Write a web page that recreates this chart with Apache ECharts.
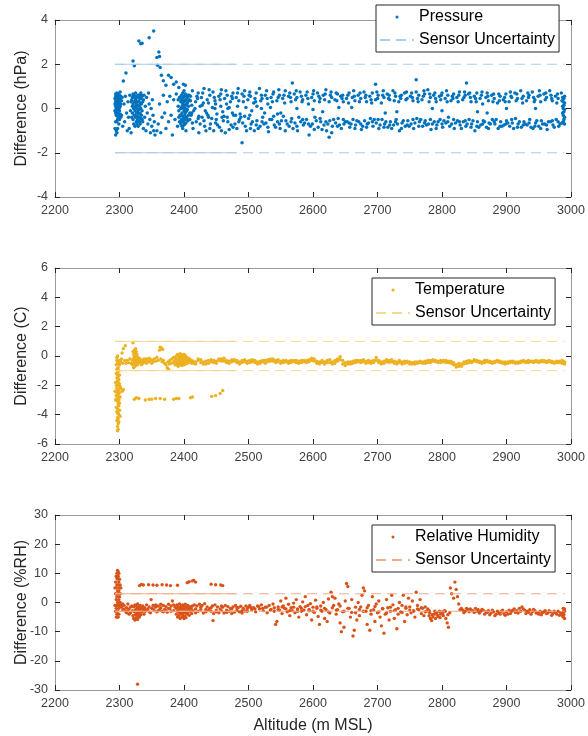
<!DOCTYPE html>
<html><head><meta charset="utf-8">
<script src="https://cdn.jsdelivr.net/npm/echarts@6/dist/echarts.min.js"></script>
<style>html,body{margin:0;padding:0;background:#fff}#c{width:588px;height:736px}</style>
</head><body><div id="c"></div>
<script>
// ---------- axis ticks ----------
const altitudeTicks = [2200, 2300, 2400, 2500, 2600, 2700, 2800, 2900, 3000];
const pressureTicks = [-4, -2, 0, 2, 4];
const temperatureTicks = [-6, -4, -2, 0, 2, 4, 6];
const humidityTicks = [-30, -20, -10, 0, 10, 20, 30];

// ---------- sensor uncertainty (±) ----------
const uncertaintyAltRange = [2293, 2990];
const uncertaintySolidEnd = 2480;
const pressureUncertainty = 2;
const temperatureUncertainty = 1;
const humidityUncertainty = 3;

// ---------- Pressure difference (hPa) ----------
const pressureCluster1 = [[2294,0.3],[2294,0.1],[2294,0.5],[2294,-0.2],[2295,0.6],[2295,0.4],[2295,0.2],[2295,0.0],[2295,-0.1],[2295,0.35],[2295,0.55],[2296,0.7],[2296,0.45],[2296,0.25],[2296,0.05],[2296,-0.3],[2296,0.15],[2296,0.5],[2297,0.6],[2297,0.3],[2297,0.1],[2297,-0.05],[2297,0.4],[2297,-0.5],[2298,0.5],[2298,0.2],[2298,0.65],[2298,-0.2],[2298,0.0],[2298,0.35],[2299,0.45],[2299,0.15],[2299,-0.35],[2299,0.55],[2299,0.25],[2300,0.3],[2300,0.6],[2300,-0.1],[2300,0.05],[2301,0.4],[2301,0.75],[2295,-1.0],[2294,-1.2],[2296,-1.1],[2297,-0.9],[2299,-0.7],[2300,-0.5],[2302,0.2],[2302,-0.4],
[2293,0.2],[2293,-0.1],[2293,0.45],[2294,0.65],[2295,-0.3],[2296,-0.6],[2297,0.2],[2298,-0.4],[2299,0.0],[2300,0.45],[2301,0.1],[2301,-0.25],[2302,0.55],[2303,0.35],[2293,-0.9],[2294,-0.6]];
const pressureSpike = [[2306,1.24],[2310,1.6],[2321,2.15],[2323,1.93],[2330,3.05],[2333,2.93],[2335,2.95],[2346,3.2],[2353,3.5],[2358,2.3],[2361,2.55],[2359,1.95],[2362,2.35],[2363,1.85],[2365,1.5],[2368,1.25],[2372,1.05],[2376,1.5],[2380,1.4],[2384,1.1],[2388,1.2],[2392,0.95]];
const pressureCluster2 = [[2303,-0.3],[2304,0.5],[2305,-0.8],[2307,0.2],[2308,-0.6],[2309,0.55],[2311,-0.2],[2312,-1.0],[2313,0.3],[2314,-0.4],[2315,-0.9],[2316,0.6],[2317,-0.1],[2318,-1.1],[2319,0.4],[2320,0.5],[2320,-0.2],[2321,0.2],[2321,-0.5],[2322,0.6],[2322,0.0],[2322,-0.7],[2323,0.3],[2323,-0.3],[2324,0.5],[2324,-0.1],[2324,-0.8],[2325,0.4],[2325,0.1],[2325,-0.4],[2325,0.7],[2326,0.2],[2326,-0.2],[2326,-0.6],[2327,0.5],[2327,0.0],[2327,-0.35],[2328,0.3],[2328,-0.15],[2328,-0.5],[2329,0.6],[2329,0.15],[2329,-0.25],[2330,0.35],[2330,-0.05],[2330,-0.55],[2331,0.5],[2331,0.1],[2331,-0.4],[2332,0.25],[2332,-0.2],[2332,-0.7],[2333,0.45],[2333,0.0],[2334,0.2],[2334,-0.3],[2335,0.55],[2335,-0.1],[2336,0.3],[2336,-0.6],[2337,-0.9],[2338,0.6],[2339,-0.4],[2340,0.1],[2341,-1.0],[2342,0.5],[2343,-0.2],[2344,-0.7],[2345,0.7],[2346,0.2],[2347,-0.5],[2348,-1.1],[2349,0.0],[2350,-0.8],[2351,0.4],[2352,-0.3],[2353,-1.0],[2354,-0.6],[2355,-1.2],[2358,-1.0],[2360,-0.7],[2362,0.2],[2364,-1.1],[2366,-0.4],[2368,0.6],[2370,-0.2],[2372,-0.9],[2374,0.3],[2376,-0.6],[2378,0.55],[2380,-0.3],[2382,-1.2],[2384,0.4],[2386,-0.5],[2388,0.65],[2390,-0.8],[2391,0.1],[2392,-0.4],[2393,0.5],
[2318,0.3],[2319,-0.4],[2320,0.1],[2321,0.65],[2323,0.05],[2324,0.3],[2326,0.55],[2327,-0.7],[2329,-0.8],[2330,0.6],[2331,-0.6],[2333,-0.45],[2334,0.6],[2335,-0.5],[2337,0.4],[2333,0.7]];
const pressureCluster3 = [[2395,0.3],[2395,-0.3],[2395,-0.7],[2396,0.6],[2396,0.0],[2396,-0.5],[2397,0.4],[2397,-0.2],[2397,-0.8],[2398,0.7],[2398,0.2],[2398,-0.35],[2399,0.5],[2399,0.05],[2399,-0.6],[2400,0.8],[2400,0.3],[2400,-0.1],[2400,-0.45],[2401,0.55],[2401,0.15],[2401,-0.3],[2401,-0.7],[2402,0.65],[2402,0.0],[2402,-0.5],[2403,0.4],[2403,-0.15],[2403,-0.65],[2404,0.6],[2404,0.2],[2404,-0.4],[2405,0.5],[2405,-0.05],[2406,0.3],[2406,-0.55],[2399,1.1],[2402,1.05],[2398,-0.9],[2403,-1.0],
[2391,0.4],[2392,-0.1],[2393,-0.6],[2394,0.5],[2394,-0.3],[2395,0.0],[2396,0.35],[2397,0.1],[2398,-0.6],[2399,0.3],[2400,0.55],[2400,-0.75],[2401,0.35],[2402,-0.2],[2403,0.15],[2404,-0.1],[2405,0.25],[2405,-0.5],[2406,0.6],[2407,0.1],[2407,-0.3],[2408,0.4],[2409,-0.2],[2410,0.55]];
const pressureUpperBand = [[2408,0.6],[2413,0.8],[2418,0.3],[2422,0.7],[2427,0.5],[2431,0.9],[2436,0.4],[2440,0.6],[2445,0.75],[2449,0.2],[2454,0.55],[2458,0.85],[2463,0.45],[2467,0.6],[2472,0.3],[2476,0.7],[2481,0.5],[2485,0.35],[2490,0.65],[2494,0.8],[2499,0.4],[2503,0.55],[2508,0.25],[2512,0.7],[2517,0.9],[2521,0.45],[2526,0.6],[2530,0.2],[2535,0.5],[2539,0.75],[2544,0.35],[2548,0.6],[2553,0.45],[2557,0.8],[2562,0.55],[2566,0.3],[2571,0.65],[2575,0.5],[2580,0.75],[2584,0.4],[2589,0.6],[2593,0.2],[2598,0.5],[2602,0.35],[2607,0.7],[2611,0.45],[2616,0.6],[2620,0.85],[2625,0.3],[2629,0.5],[2634,0.4],[2638,0.65],[2643,0.55],[2647,0.3],[2652,0.45],[2656,0.7],[2661,0.5],[2665,0.35],[2670,0.6],[2674,0.45],[2679,0.75],[2683,0.3],[2688,0.55],[2692,0.7],[2697,0.4],[2701,0.6],[2706,0.25],[2710,0.5],[2715,0.65],[2719,0.4],[2724,0.8],[2728,0.55],[2733,0.3],[2737,0.6],[2742,0.7],[2746,0.45],[2751,0.55],[2755,0.35],[2760,0.75],[2764,0.6],[2769,0.4],[2773,0.65],[2778,0.85],[2782,0.5],[2787,0.6],[2791,0.3],[2796,0.55],[2800,0.7],[2805,0.45],[2809,0.6],[2814,0.35],[2818,0.65],[2823,0.5],[2827,0.75],[2832,0.4],[2836,0.6],[2841,0.65],[2845,0.3],[2850,0.55],[2854,0.7],[2859,0.45],[2863,0.2],[2868,0.5],[2872,0.35],[2877,0.6],[2881,0.45],[2886,0.25],[2890,0.55],[2895,0.4],[2899,0.65],[2904,0.3],[2908,0.5],[2913,0.7],[2917,0.45],[2922,0.8],[2926,0.55],[2931,0.35],[2935,0.6],[2940,0.75],[2944,0.4],[2949,0.55],[2953,0.3],[2958,0.65],[2962,0.5],[2967,0.8],[2971,0.35],[2976,0.55],[2980,0.45],[2985,0.7],
[2410,0.35],[2420,0.55],[2429,0.7],[2438,0.25],[2447,0.5],[2456,0.4],[2465,0.8],[2474,0.55],[2483,0.7],[2492,0.3],[2501,0.6],[2510,0.45],[2519,0.35],[2528,0.8],[2537,0.3],[2546,0.5],[2555,0.6],[2564,0.7],[2573,0.4],[2582,0.55],[2591,0.75],[2600,0.65],[2609,0.55],[2618,0.4],[2627,0.6],[2636,0.7],[2645,0.45],[2654,0.6],[2663,0.8],[2672,0.3],[2681,0.5],[2690,0.4],[2699,0.75],[2708,0.6],[2717,0.45],[2726,0.35],[2735,0.55],[2744,0.4],[2753,0.7],[2762,0.45],[2771,0.55],[2780,0.3],[2789,0.7],[2798,0.4],[2807,0.8],[2816,0.55],[2825,0.3],[2834,0.5],[2843,0.7],[2852,0.45],[2861,0.6],[2870,0.7],[2879,0.3],[2888,0.65],[2897,0.5],[2906,0.75],[2915,0.35],[2924,0.45],[2933,0.7],[2942,0.5],[2951,0.8],[2960,0.4],[2969,0.6],[2978,0.25],[2987,0.5],
[2412,0.15],[2421,0.45],[2430,0.25],[2439,0.85],[2448,0.35],[2457,0.65],[2466,0.2],[2475,0.45],[2484,0.9],[2493,0.55],[2502,0.75],[2511,0.3],[2520,0.6],[2529,0.45],[2538,0.65],[2547,0.85],[2556,0.25],[2565,0.5],[2574,0.8],[2583,0.3],[2592,0.45],[2601,0.8],[2610,0.3],[2619,0.65],[2628,0.75],[2637,0.35],[2646,0.6],[2655,0.25],[2664,0.55],[2673,0.7],[2682,0.6],[2691,0.25],[2700,0.45],[2709,0.8],[2718,0.6],[2727,0.7],[2736,0.45],[2745,0.75],[2754,0.5],[2763,0.3],[2772,0.8],[2781,0.65],[2790,0.45],[2799,0.6],[2808,0.3],[2817,0.45],[2826,0.6],[2835,0.75],[2844,0.5],[2853,0.3],[2862,0.75],[2871,0.55],[2880,0.65],[2889,0.35],[2898,0.3],[2907,0.55],[2916,0.65],[2925,0.25],[2934,0.5],[2943,0.3],[2952,0.6],[2961,0.7],[2970,0.45],[2979,0.65],[2986,0.35]];
const pressureLowerBand = [[2409,-0.5],[2414,-0.9],[2419,-0.6],[2423,-1.1],[2428,-0.4],[2432,-0.8],[2437,-0.3],[2441,-0.7],[2446,-1.0],[2450,-0.5],[2455,-0.85],[2459,-0.4],[2464,-1.1],[2468,-0.6],[2473,-0.75],[2477,-0.3],[2482,-0.9],[2486,-0.5],[2491,-0.65],[2495,-0.8],[2500,-0.45],[2504,-0.7],[2509,-1.0],[2513,-0.55],[2518,-0.8],[2522,-0.4],[2527,-0.65],[2531,-1.05],[2536,-0.5],[2540,-0.75],[2545,-0.6],[2549,-0.9],[2554,-0.35],[2558,-0.55],[2563,-0.8],[2567,-0.45],[2572,-0.65],[2576,-1.0],[2581,-0.6],[2585,-0.75],[2590,-0.5],[2594,-1.2],[2599,-0.7],[2603,-0.4],[2608,-0.85],[2612,-0.6],[2617,-0.75],[2621,-1.0],[2626,-0.55],[2630,-0.8],[2635,-0.65],[2639,-0.45],[2644,-0.9],[2648,-0.7],[2653,-0.6],[2657,-0.85],[2662,-0.5],[2666,-0.75],[2671,-0.6],[2675,-0.95],[2680,-0.55],[2684,-0.7],[2689,-0.45],[2693,-0.8],[2698,-0.65],[2702,-0.9],[2707,-0.5],[2711,-0.7],[2716,-0.85],[2720,-0.6],[2725,-0.75],[2729,-0.5],[2734,-1.0],[2738,-0.65],[2743,-0.8],[2747,-0.55],[2752,-0.7],[2756,-0.9],[2761,-0.45],[2765,-0.6],[2770,-0.8],[2774,-0.55],[2779,-0.7],[2783,-0.95],[2788,-0.6],[2792,-0.75],[2797,-0.5],[2801,-0.85],[2806,-0.65],[2810,-0.4],[2815,-0.7],[2819,-0.9],[2824,-0.55],[2828,-0.75],[2833,-0.6],[2837,-0.8],[2842,-0.5],[2846,-0.7],[2851,-1.0],[2855,-0.6],[2860,-0.75],[2864,-0.55],[2869,-0.85],[2873,-0.65],[2878,-0.5],[2882,-0.7],[2887,-0.9],[2891,-0.6],[2896,-0.75],[2900,-0.55],[2905,-0.8],[2909,-0.65],[2914,-0.45],[2918,-0.7],[2923,-0.85],[2927,-0.6],[2932,-0.75],[2936,-0.5],[2941,-0.9],[2945,-0.65],[2950,-0.8],[2954,-0.55],[2959,-0.7],[2963,-0.95],[2968,-0.6],[2972,-0.75],[2977,-0.5],[2981,-0.8],[2986,-0.65],
[2411,-0.3],[2425,-0.7],[2434,-1.0],[2443,-0.45],[2452,-0.75],[2461,-0.55],[2470,-0.95],[2479,-0.7],[2488,-0.4],[2497,-1.0],[2506,-0.6],[2515,-0.9],[2524,-0.7],[2533,-0.5],[2542,-0.85],[2551,-0.55],[2560,-0.7],[2569,-0.9],[2578,-0.4],[2587,-0.65],[2596,-0.8],[2605,-0.55],[2614,-0.95],[2623,-0.7],[2632,-0.5],[2641,-0.75],[2650,-0.6],[2659,-0.7],[2668,-0.55],[2677,-0.8],[2686,-0.65],[2695,-0.5],[2704,-0.75],[2713,-0.6],[2722,-0.9],[2731,-0.7],[2740,-0.55],[2749,-0.8],[2758,-0.65],[2767,-0.5],[2776,-0.75],[2785,-0.7],[2794,-0.6],[2803,-0.55],[2812,-0.8],[2821,-0.65],[2830,-0.9],[2839,-0.7],[2848,-0.55],[2857,-0.85],[2866,-0.6],[2875,-0.7],[2884,-0.5],[2893,-0.8],[2902,-0.65],[2911,-0.9],[2920,-0.6],[2929,-0.7],[2938,-0.85],[2947,-0.55],[2956,-0.7],[2965,-0.6],[2974,-0.85],[2983,-0.7],
[2413,-0.65],[2422,-0.45],[2431,-0.55],[2440,-0.9],[2449,-0.65],[2458,-1.0],[2467,-0.4],[2476,-0.85],[2485,-0.6],[2494,-0.35],[2503,-0.9],[2512,-0.75],[2521,-0.6],[2530,-0.85],[2539,-0.35],[2548,-0.7],[2557,-1.0],[2566,-0.6],[2575,-0.8],[2584,-0.5],[2593,-0.7],[2602,-0.95],[2611,-0.45],[2620,-0.6],[2629,-1.1],[2638,-0.8],[2647,-0.5],[2656,-0.65],[2665,-0.9],[2674,-0.7],[2683,-0.85],[2692,-0.6],[2701,-0.5],[2710,-0.85],[2719,-0.75],[2728,-0.6],[2737,-0.9],[2746,-0.75],[2755,-0.5],[2764,-0.8],[2773,-0.65],[2782,-0.5],[2791,-0.9],[2800,-0.7],[2809,-0.6],[2818,-0.5],[2827,-0.6],[2836,-0.55],[2845,-0.85],[2854,-0.8],[2863,-0.7],[2872,-0.9],[2881,-0.6],[2890,-0.8],[2899,-0.7],[2908,-0.5],[2917,-0.85],[2926,-0.75],[2935,-0.65],[2944,-0.8],[2953,-0.9],[2962,-0.75],[2971,-0.55],[2980,-0.6]];
const pressureOutliers = [[2415,-0.1],[2425,0.1],[2435,-0.2],[2448,0.0],[2460,-0.15],[2470,0.05],[2480,-0.3],[2490,-1.55],[2505,-0.1],[2520,0.0],[2550,-0.2],[2568,1.15],[2600,-0.05],[2625,-1.3],[2640,0.05],[2697,1.1],[2730,-0.15],[2760,1.3],[2800,-0.1],[2838,1.15],[2870,-0.2],[2945,0.0],
[2412,-0.2],[2417,0.0],[2423,-0.35],[2428,0.15],[2433,-0.1],[2438,-0.4],[2444,0.05],[2451,-0.25],[2457,0.1],[2462,-0.35],[2468,0.0],[2475,-0.2],[2483,0.1],[2487,-0.25],[2496,0.05],[2502,-0.3],[2513,0.1],[2525,-0.2],[2534,0.05],[2545,-0.25],[2575,0.0],[2615,-0.15],[2660,0.05],[2712,-0.2],[2785,0.0],[2855,-0.15],[2900,0.0],
[2988,-0.6],[2988,-0.3],[2988,0.0],[2988,0.3],[2989,-0.5],[2989,-0.15],[2989,0.15],[2989,0.45],[2990,-0.7],[2990,-0.4],[2990,-0.05],[2990,0.25],[2990,0.55],[2987,-0.2],[2987,0.1]];

// ---------- Temperature difference (C) ----------
const temperatureSpike = [[2293,-2.4],[2294,-1.8],[2294,-3.0],[2295,-0.6],[2295,-1.2],[2295,-2.0],[2295,-2.7],[2295,-3.5],[2296,-0.3],[2296,-0.9],[2296,-1.5],[2296,-2.2],[2296,-2.9],[2296,-3.8],[2296,-4.4],[2297,-0.5],[2297,-1.1],[2297,-1.7],[2297,-2.4],[2297,-3.1],[2297,-3.6],[2297,-4.2],[2297,-4.8],[2297,-5.1],[2298,-0.8],[2298,-1.4],[2298,-2.0],[2298,-2.6],[2298,-3.3],[2298,-3.9],[2298,-4.6],[2298,-5.0],[2299,-1.0],[2299,-1.6],[2299,-2.3],[2299,-2.8],[2299,-3.4],[2299,-4.0],[2299,-4.5],[2300,-1.3],[2300,-1.9],[2300,-2.5],[2300,-3.2],[2300,-3.7],[2301,-2.1],[2301,-2.8],[2301,-4.1],[2302,-2.2],[2304,-2.4],[2306,-2.3],[2296,-0.1],[2297,0.0],[2298,-0.35],[2299,-0.5],[2300,-0.6],[2300,-0.3],[2297,-1.3],[2298,-1.8],[2296,-2.5],[2299,-3.0],[2297,-3.9],[2298,-4.3],[2299,-2.0]];
const temperatureNearSurface = [[2302,-0.4],[2303,-0.2],[2304,0.2],[2305,-0.5],[2306,0.5],[2308,-0.3],[2309,0.7],[2310,-0.5],[2312,-0.3],[2314,-0.45],[2316,-0.2],[2318,-0.5],[2321,0.9],[2325,0.5],[2320,-0.3],[2320,-0.6],[2321,0.3],[2321,-0.2],[2322,0.1],[2322,-0.5],[2322,-0.8],[2323,0.4],[2323,-0.1],[2323,-0.4],[2324,0.2],[2324,-0.3],[2324,-0.7],[2325,0.0],[2325,-0.5],[2326,-0.2],[2326,-0.6],[2326,0.3],[2327,-0.4],[2327,0.1],[2328,-0.3],[2328,-0.6],[2329,-0.1],[2329,-0.5],[2330,-0.3],[2330,-0.45],[2332,-0.4],[2332,-0.2],[2334,-0.35],[2334,-0.6],[2336,-0.3],[2336,-0.5],[2338,-0.4],[2338,-0.2],[2340,-0.45],[2340,-0.3],[2342,-0.5],[2342,-0.2],[2344,-0.35],[2346,-0.4],[2346,-0.15],[2348,-0.3],[2350,-0.5],[2350,-0.25],[2352,-0.4],[2354,-0.2],[2356,-0.35],[2358,-0.1],[2360,-0.3],[2362,0.4],[2363,0.6],[2365,0.55],[2367,0.45],[2364,-0.2],[2366,-0.4],[2368,-0.3],[2370,-0.5],[2372,-0.6],[2374,-0.8],[2375,-0.4],[2376,-0.9],[2377,-0.55],[2378,-0.3],[2380,-0.5],[2381,-0.2],[2383,-0.45],[2384,-0.1],[2385,-0.35],[2386,-0.6],[2387,-0.2],
[2388,0.0],[2388,-0.4],[2389,-0.6],[2390,0.1],[2390,-0.2],[2390,-0.5],[2391,-0.3],[2391,-0.7],[2392,0.05],[2392,-0.25],[2392,-0.55],[2393,-0.1],[2393,-0.45],[2394,0.15],[2394,-0.3],[2394,-0.6],[2395,-0.05],[2395,-0.4],[2396,0.1],[2396,-0.2],[2396,-0.5],[2397,-0.35],[2397,-0.65],[2398,0.0],[2398,-0.3],[2399,-0.15],[2399,-0.5],[2400,0.1],[2400,-0.25],[2400,-0.6],[2401,-0.1],[2401,-0.4],[2402,0.05],[2402,-0.3],[2402,-0.55],[2403,-0.2],[2403,-0.45],[2404,-0.1],[2404,-0.35],[2405,-0.25],[2405,-0.5],[2406,-0.3],[2407,-0.15],[2407,-0.45],[2408,-0.35],[2409,-0.2],[2410,-0.4],[2411,-0.3],[2412,-0.5],[2413,-0.35]];
const temperatureColdBranch = [[2323,-2.95],[2326,-2.85],[2330,-2.9],[2340,-3.0],[2346,-2.95],[2350,-2.95],[2356,-2.9],[2363,-2.9],[2370,-2.95],[2384,-2.95],[2388,-2.9],[2392,-2.9],[2410,-2.85],[2413,-2.8],[2443,-2.75],[2449,-2.7],[2456,-2.55],[2460,-2.35]];
const temperatureMainBand = [[2414,-0.35],[2418,-0.4],[2422,-0.3],[2426,-0.45],[2430,-0.4],[2434,-0.35],[2438,-0.5],[2442,-0.4],[2446,-0.3],[2450,-0.35],[2454,-0.3],[2458,-0.2],[2462,-0.15],[2466,-0.3],[2470,-0.35],[2474,-0.4],[2478,-0.35],[2482,-0.3],[2486,-0.4],[2490,-0.45],[2494,-0.4],[2498,-0.35],[2502,-0.3],[2506,-0.4],[2510,-0.45],[2514,-0.4],[2518,-0.5],[2522,-0.4],[2526,-0.3],[2530,-0.25],[2534,-0.35],[2538,-0.2],[2542,-0.3],[2546,-0.4],[2550,-0.35],[2554,-0.45],[2558,-0.4],[2562,-0.35],[2566,-0.45],[2570,-0.4],[2574,-0.3],[2578,-0.35],[2582,-0.45],[2586,-0.4],[2590,-0.3],[2594,-0.25],[2598,-0.15],[2602,-0.35],[2606,-0.5],[2610,-0.4],[2614,-0.3],[2618,-0.55],[2622,-0.45],[2626,-0.25],[2630,-0.4],[2634,-0.5],[2638,-0.2],[2642,-0.05],[2646,-0.3],[2650,-0.65],[2654,-0.55],[2658,-0.4],[2662,-0.35],[2666,-0.45],[2670,-0.4],[2674,-0.3],[2678,-0.25],[2682,-0.35],[2686,-0.45],[2690,-0.5],[2694,-0.3],[2698,-0.1],[2702,-0.3],[2706,-0.4],[2710,-0.5],[2714,-0.25],[2718,-0.3],[2722,-0.4],[2726,-0.5],[2730,-0.55],[2734,-0.45],[2738,-0.4],[2742,-0.5],[2746,-0.45],[2750,-0.4],[2754,-0.45],[2758,-0.55],[2762,-0.5],[2766,-0.45],[2770,-0.4],[2774,-0.35],[2778,-0.3],[2782,-0.3],[2786,-0.35],[2790,-0.4],[2794,-0.35],[2798,-0.3],[2802,-0.4],[2806,-0.45],[2810,-0.45],[2814,-0.5],[2818,-0.6],[2822,-0.75],[2826,-0.7],[2830,-0.55],[2834,-0.4],[2838,-0.35],[2842,-0.3],[2846,-0.35],[2850,-0.35],[2854,-0.4],[2858,-0.35],[2862,-0.4],[2866,-0.45],[2870,-0.4],[2874,-0.45],[2878,-0.4],[2882,-0.35],[2886,-0.4],[2890,-0.45],[2894,-0.5],[2898,-0.55],[2902,-0.5],[2906,-0.45],[2910,-0.45],[2914,-0.4],[2918,-0.4],[2922,-0.35],[2926,-0.4],[2930,-0.35],[2934,-0.3],[2938,-0.35],[2942,-0.35],[2946,-0.3],[2950,-0.35],[2954,-0.4],[2958,-0.4],[2962,-0.45],[2966,-0.4],[2970,-0.45],[2974,-0.4],[2978,-0.35],[2982,-0.45],[2986,-0.5],[2990,-0.4]];
const temperatureSecondBand = [[2418,-0.55],[2426,-0.25],[2434,-0.55],[2442,-0.25],[2450,-0.5],[2458,-0.35],[2466,-0.45],[2474,-0.25],[2482,-0.45],[2490,-0.3],[2498,-0.5],[2506,-0.25],[2514,-0.55],[2522,-0.3],[2530,-0.4],[2538,-0.35],[2546,-0.25],[2554,-0.3],[2562,-0.5],[2570,-0.3],[2578,-0.5],[2586,-0.3],[2594,-0.4],[2602,-0.2],[2610,-0.55],[2618,-0.4],[2626,-0.45],[2634,-0.3],[2642,-0.25],[2650,-0.45],[2658,-0.55],[2666,-0.3],[2674,-0.45],[2682,-0.5],[2690,-0.35],[2698,-0.3],[2706,-0.55],[2714,-0.4],[2722,-0.25],[2730,-0.4],[2738,-0.55],[2746,-0.35],[2754,-0.55],[2762,-0.4],[2770,-0.5],[2778,-0.45],[2786,-0.25],[2794,-0.45],[2802,-0.3],[2810,-0.35],[2818,-0.45],[2826,-0.5],[2834,-0.55],[2842,-0.45],[2850,-0.25],[2858,-0.45],[2866,-0.3],[2874,-0.35],[2882,-0.45],[2890,-0.35],[2898,-0.4],[2906,-0.35],[2914,-0.5],[2922,-0.45],[2930,-0.45],[2938,-0.4],[2946,-0.4],[2954,-0.3],[2962,-0.35],[2970,-0.35],[2978,-0.45],[2986,-0.3],[2990,-0.55],
[2414,-0.5],[2422,-0.2],[2430,-0.55],[2438,-0.3],[2446,-0.45],[2454,-0.2],[2462,-0.35],[2470,-0.5],[2478,-0.25],[2486,-0.55],[2494,-0.25],[2502,-0.45],[2510,-0.3],[2518,-0.35],[2526,-0.5],[2534,-0.2],[2542,-0.45],[2550,-0.5],[2558,-0.3],[2566,-0.3],[2574,-0.45],[2582,-0.3],[2590,-0.45],[2598,-0.3],[2606,-0.35],[2614,-0.45],[2622,-0.3],[2630,-0.55],[2638,-0.35],[2646,-0.55],[2654,-0.4],[2662,-0.5],[2670,-0.3],[2678,-0.4],[2686,-0.3],[2694,-0.45],[2702,-0.45],[2710,-0.35],[2718,-0.45],[2726,-0.35],[2734,-0.3],[2742,-0.35],[2750,-0.55],[2758,-0.4],[2766,-0.35],[2774,-0.5],[2782,-0.45],[2790,-0.3],[2798,-0.45],[2806,-0.3],[2814,-0.35],[2822,-0.6],[2830,-0.7],[2838,-0.5],[2846,-0.45],[2854,-0.3],[2862,-0.5],[2870,-0.3],[2878,-0.5],[2886,-0.3],[2894,-0.4],[2902,-0.4],[2910,-0.35],[2918,-0.5],[2926,-0.3],[2934,-0.45],[2942,-0.45],[2950,-0.45],[2958,-0.3],[2966,-0.3],[2974,-0.5],[2982,-0.35],[2988,-0.35]];

// ---------- Relative humidity difference (%RH) ----------
const humiditySpike = [[2293,5],[2293,-1],[2294,3],[2294,7],[2294,-3],[2295,9],[2295,5],[2295,1],[2295,-2],[2295,-5],[2296,10],[2296,6],[2296,2],[2296,-1],[2296,-4],[2297,11],[2297,8],[2297,4],[2297,0],[2297,-3],[2298,9],[2298,6],[2298,3],[2298,-1],[2298,-5],[2299,10],[2299,7],[2299,4],[2299,1],[2299,-2],[2300,8],[2300,5],[2300,2],[2300,-1],[2301,6],[2301,3],[2301,0],[2302,5],[2302,-1],[2297,-5],[2299,-4],[2296,8.5],[2298,10.5]];
const humidityMoistBranch = [[2331,5.8],[2334,6.2],[2337,6.0],[2345,6.1],[2352,6.0],[2358,5.9],[2366,6.1],[2373,6.0],[2379,5.8],[2390,5.9],[2405,6.8],[2408,7.1],[2413,7.4],[2415,7.6],[2418,7.0],[2442,6.3],[2449,6.1],[2457,6.0],[2460,5.8],[2328,-28]];
const humidityLowLevel = [[2303,-1.5],[2305,-2.5],[2307,-1],[2309,-3],[2311,-1.8],[2313,-0.5],[2315,-2.2],[2317,-3.5],[2319,-1.2],[2320,-2.8],[2321,-4.5],[2322,-1.5],[2322,-5.5],[2323,-3.2],[2324,-0.8],[2324,-6],[2325,-2.5],[2325,-4.2],[2326,-1.2],[2326,-5.2],[2327,-3.6],[2327,-2],[2328,-0.5],[2328,-5.8],[2329,-2.8],[2329,-4.5],[2330,-1.5],[2330,-3.8],[2331,-5],[2331,-2.2],[2332,-3],[2332,-1],[2333,-4.2],[2334,-2],[2335,-3.2],[2336,-1.2],[2337,-2.5],[2338,-4],[2339,-1.8],[2340,-3],[2342,-0.8],[2344,-2.2],[2346,-1.5],[2348,-3.5],[2349,1],[2350,-2],[2352,-1],[2354,-2.8],[2356,-1.6],[2358,-3.2],[2360,-1.2],[2362,-2.5],[2364,-1.8],[2366,-3],[2368,-1],[2370,-2.4],[2372,-1.4],[2374,-3.3],[2376,-0.6],[2378,-2.1],[2380,-1.2],[2382,0.5],[2384,-2.8],[2386,-1.5],
[2388,-2],[2388,-4],[2389,-0.8],[2390,-3],[2390,-5],[2391,-1.5],[2392,-2.5],[2392,-4.5],[2393,-0.5],[2393,-3.5],[2394,-1.8],[2394,-5.5],[2395,-2.8],[2395,-4],[2396,-1.2],[2396,-3.2],[2397,-2.2],[2397,-5],[2398,-0.8],[2398,-3.8],[2399,-1.8],[2399,-4.5],[2400,-2.6],[2400,-5.5],[2400,-1],[2401,-3.4],[2401,-4.8],[2402,-2],[2402,-0.6],[2403,-3],[2403,-5.2],[2404,-1.6],[2404,-4],[2405,-2.8],[2406,-1],[2406,-3.6],[2407,-2.2],[2408,-4.4],[2409,-1.4],[2410,-3],[2411,-2],[2412,-3.8],[2413,-1.2],
[2416,-0.8],[2420,-1.2],[2424,-0.6],[2428,-1.0],[2432,-0.4],[2436,-1.5],[2440,-2],[2444,-1.2],[2448,-0.8],[2452,-1.5],[2456,-2.2],[2460,-1.6],[2464,-1.0],[2468,-1.4],[2472,-2.0],[2476,-1.5],[2480,-1.0],[2484,-1.8],[2488,-1.3],[2492,-2.0],[2496,-1.2],[2500,-1.6],
[2414,-2.8],[2418,-3.5],[2422,-3.0],[2426,-2.4],[2430,-3.6],[2434,-3.2],[2438,-2.6],[2442,-3.0],[2446,-3.8],[2450,-3.2],[2454,-3.5],[2458,-2.8],[2462,-3.6],[2466,-3.4],[2470,-3.0],[2474,-3.8],[2478,-3.3],[2482,-2.7],[2486,-3.2],[2490,-3.6],[2494,-2.9],[2498,-3.0],[2445,-6.2],
[2342,-2.6],[2346,-3.2],[2352,-2.2],[2356,-0.8],[2360,-2.8],[2364,-0.6],[2368,-3.2],[2372,-2.6],[2376,-2.0],[2380,-3.0],[2384,-0.8],[2418,-2.2],[2426,-1.6],[2434,-2.4],[2442,-1.8],[2450,-2.6],[2458,-1.2],[2466,-2.6],[2474,-2.2],[2482,-1.8],[2490,-2.8],[2498,-2.2],[2313,-2.8],[2311,-3.5],[2307,-2.2],[2305,-0.5],[2315,-4],[2317,-1.5]];
const humidityMidLevel = [[2502,-1.0],[2505,-2.5],[2508,-1.8],[2511,-3.2],[2514,-1.2],[2517,-2.2],[2520,-0.8],[2523,-2.8],[2526,-1.6],[2529,-3.5],[2532,-1.0],[2535,-2.4],[2538,-0.5],[2540,-3.0],[2542,-7.5],[2544,-6.5],[2546,-1.5],[2548,-2.6],[2550,0.5],[2552,-3.8],[2554,-1.2],[2556,-2.0],[2558,1.5],[2560,-3.2],[2562,-0.6],[2564,-4.5],[2566,-1.8],[2568,-2.8],[2570,-0.2],[2572,-3.5],[2574,1.0],[2576,-2.2],[2578,-5.0],[2580,-1.4],[2582,-3.0],[2584,0.2],[2586,-2.6],[2588,2.0],[2590,-4.2],[2592,-1.0],[2594,-2.8],[2596,-0.4],[2598,-6.0],[2600,-1.6],[2602,-3.4],[2604,0.8],[2606,-2.0],[2608,-4.8],[2610,-7.5],[2612,-1.2],[2614,-3.0],[2616,0.0],[2618,-5.5],[2620,-2.4],[2622,-6.5],[2624,1.2],[2626,-3.6],[2628,3.5],[2630,2.0],[2632,-1.0],[2634,1.5],[2636,-4.0],[2638,-2.5],[2640,-0.5],[2642,-7.0],[2644,-10.0],[2646,-3.2],[2648,-8.5],[2650,0.5],[2652,6.5],[2654,5.5],[2656,-2.0],[2658,-5.0],[2660,1.0],[2662,-11.5],[2664,-9.5],[2666,-3.5],[2668,-6.0],[2670,0.0],[2672,-4.5],[2674,-1.5],[2676,2.5],[2678,5.0],[2680,4.0],[2682,-3.0],[2684,-7.5],[2686,-1.0],[2688,-9.5],[2690,-4.0],[2692,2.0],[2694,-2.5],[2696,-6.5],[2698,-0.5],[2700,-3.5],[2702,0.5],[2704,-5.0],[2706,-8.0],[2708,-2.0],[2710,-10.5],[2712,-4.0],[2714,1.0],[2716,-1.8],[2718,-6.0],[2720,-3.0],[2722,2.5],[2724,-0.8],[2726,-5.5],[2728,-2.5],[2730,-9.0],[2732,-4.0],[2734,0.0],[2736,-3.2],[2738,-1.0],[2740,2.5],[2742,-6.5],[2744,-2.0],[2746,-4.2],[2748,1.5],[2750,-1.5],[2752,-3.5],[2754,0.5],[2756,-2.8],[2758,-5.0],[2760,3.5],[2762,-1.0],[2764,-2.5],[2766,1.0],[2768,-3.8],[2770,-2.0],[2772,-4.5],[2774,-1.5],[2776,-3.0],[2778,-2.2],
[2504,-1.8],[2510,-2.2],[2516,-1.4],[2522,-2.0],[2528,-1.6],[2534,-2.6],[2540,-1.8],[2546,-2.4],[2552,-1.5],[2558,-2.2],[2564,-2.8],[2570,-1.6],[2576,-3.0],[2582,-2.0],[2588,-1.4],[2594,-2.4],[2600,-3.0],[2606,-1.5],[2612,-2.6],[2618,-2.0],[2624,-3.2],[2630,-1.8],[2636,-2.6],[2642,-1.2],[2648,-3.0],[2654,-2.0],[2660,-3.4],[2666,-1.6],[2672,-2.4],[2678,-3.0],[2684,-1.8],[2690,-2.8],[2696,-1.4],[2702,-3.2],[2708,-2.2],[2714,-3.6],[2720,-1.6],[2726,-2.8],[2732,-2.0],[2738,-3.4],[2744,-1.5],[2750,-2.6],[2756,-3.0],[2762,-2.2],[2768,-1.8],[2774,-3.2],[2780,-2.8]];
const humidityUpperLevel = [[2780,-4.5],[2782,-5.5],[2784,-6.2],[2786,-5.0],[2788,-4.0],[2790,-5.5],[2792,-3.5],[2794,-4.8],[2796,-3.0],[2798,-4.0],[2800,-3.2],[2802,-4.5],[2804,-2.8],[2806,-5.5],[2808,-7.0],[2810,-8.5],[2812,-3.5],[2813,5.0],[2815,3.0],[2818,1.5],[2820,7.0],[2822,4.5],[2824,2.0],[2826,-0.5],[2828,-2.5],[2830,-2.0],[2781,-3.5],[2785,-4.2],[2789,-3.0],[2793,-4.4],[2797,-5.2],[2801,-3.8],[2805,-3.0],[2809,-4.2],
[2832,-2.6],[2836,-3.0],[2840,-2.4],[2844,-2.2],[2848,-2.8],[2852,-2.0],[2856,-2.5],[2860,-3.0],[2864,-2.6],[2868,-3.2],[2872,-2.8],[2876,-3.6],[2880,-3.2],[2884,-4.0],[2888,-3.4],[2892,-3.0],[2896,-3.8],[2900,-3.2],[2904,-2.6],[2908,-3.0],[2912,-2.2],[2916,-2.8],[2920,-2.0],[2924,-1.5],[2928,-2.6],[2932,-3.0],[2936,-2.5],[2940,-3.2],[2944,-2.8],[2948,-3.5],[2952,-3.0],[2956,-3.4],[2960,-2.8],[2964,-3.6],[2968,-3.2],[2972,-3.8],[2976,-3.4],[2980,-3.0],[2984,-3.6],
[2834,-3.5],[2842,-3.2],[2850,-3.4],[2858,-3.6],[2866,-4.0],[2874,-4.2],[2882,-4.5],[2890,-4.0],[2898,-4.4],[2906,-3.8],[2914,-3.4],[2922,-3.0],[2930,-3.8],[2938,-4.0],[2946,-3.6],[2954,-4.2],[2962,-3.8],[2970,-4.4],[2978,-4.0],[2986,-4.2],
[2838,-2.0],[2846,-2.8],[2854,-3.0],[2862,-2.4],[2870,-3.4],[2878,-2.6],[2886,-3.0],[2894,-2.6],[2902,-4.0],[2910,-2.6],[2918,-3.6],[2926,-2.2],[2934,-3.4],[2942,-2.4],[2950,-4.0],[2958,-3.2],[2966,-2.8],[2974,-3.0],[2982,-4.4],
[2988,-2],[2988,-3.5],[2988,-5],[2989,-2.8],[2989,-4.2],[2990,-3],[2990,-5.5],[2990,-2.2],[2987,-3.8],[2987,-4.6]];

// ---------- build chart ----------
const FONT = 'Liberation Sans, Arial, Helvetica, sans-serif';
const AXIS_COLOR = '#262626';
const LINE_GRAY = '#9a9a9a';
const panels = [
  {top: 20, height: 177, ticks: pressureTicks, ylabel: 'Difference (hPa)', color: '#0072BD', light: '#a9cdee', dot: 3.5,
   name: 'Pressure', unc: pressureUncertainty, points: [].concat(pressureCluster1, pressureSpike, pressureCluster2, pressureCluster3, pressureUpperBand, pressureLowerBand, pressureOutliers),
   legend: {left: 376, top: 5}},
  {top: 268, height: 176, ticks: temperatureTicks, ylabel: 'Difference (C)', color: '#EDB120', light: '#f8d993', dot: 3.4,
   name: 'Temperature', unc: temperatureUncertainty, points: [].concat(temperatureSpike, temperatureNearSurface, temperatureColdBranch, temperatureMainBand, temperatureSecondBand),
   legend: {left: 372, top: 278}},
  {top: 515, height: 175, ticks: humidityTicks, ylabel: 'Difference (%RH)', color: '#D95319', light: '#f2ab8c', dot: 3.4,
   name: 'Relative Humidity', unc: humidityUncertainty, points: [].concat(humiditySpike, humidityMoistBranch, humidityLowLevel, humidityMidLevel, humidityUpperLevel),
   legend: {left: 372, top: 525}}
];

const grid = [], xAxis = [], yAxis = [], series = [], legend = [];
const plain = v => String(v);
panels.forEach((p, i) => {
  grid.push({left: 55, right: 17, top: p.top, height: p.height, containLabel: false, outerBoundsMode: 'none'});
  const tickStyle = {show: true, inside: true, length: 5, lineStyle: {color: AXIS_COLOR, width: 1}};
  xAxis.push({type: 'value', gridIndex: i, position: 'bottom', min: altitudeTicks[0], max: altitudeTicks[altitudeTicks.length-1],
    interval: altitudeTicks[1]-altitudeTicks[0],
    axisLine: {show: true, onZero: false, lineStyle: {color: LINE_GRAY, width: 1}},
    axisTick: tickStyle, splitLine: {show: false},
    axisLabel: {fontSize: 12.5, color: '#404040', fontFamily: FONT, margin: 7, formatter: plain},
    name: i === 2 ? 'Altitude (m MSL)' : '', nameLocation: 'middle', nameGap: 28, nameMoveOverlap: false,
    nameTextStyle: {fontSize: 16, color: AXIS_COLOR, fontFamily: FONT}});
  xAxis.push({type: 'value', gridIndex: i, position: 'top', min: altitudeTicks[0], max: altitudeTicks[altitudeTicks.length-1],
    interval: altitudeTicks[1]-altitudeTicks[0],
    axisLine: {show: true, onZero: false, lineStyle: {color: LINE_GRAY, width: 1}},
    axisTick: tickStyle, axisLabel: {show: false}, splitLine: {show: false}});
  const t = p.ticks;
  yAxis.push({type: 'value', gridIndex: i, position: 'left', min: t[0], max: t[t.length-1], interval: t[1]-t[0],
    axisLine: {show: true, onZero: false, lineStyle: {color: LINE_GRAY, width: 1}},
    axisTick: tickStyle, splitLine: {show: false},
    axisLabel: {fontSize: 12.5, color: '#404040', fontFamily: FONT, margin: 7, formatter: plain},
    name: p.ylabel, nameLocation: 'middle', nameGap: 25, nameRotate: 90, nameMoveOverlap: false,
    nameTextStyle: {fontSize: 16, color: AXIS_COLOR, fontFamily: FONT}});
  yAxis.push({type: 'value', gridIndex: i, position: 'right', min: t[0], max: t[t.length-1], interval: t[1]-t[0],
    axisLine: {show: true, onZero: false, lineStyle: {color: LINE_GRAY, width: 1}},
    axisTick: tickStyle, axisLabel: {show: false}, splitLine: {show: false}});
  const xi = i*2, yi = i*2;
  series.push({type: 'scatter', name: p.name, xAxisIndex: xi, yAxisIndex: yi, data: p.points,
    symbol: 'circle', symbolSize: p.dot, itemStyle: {color: p.color, opacity: 1}, z: 2, silent: true});
  const uncName = 'Sensor Uncertainty ' + (i+1);
  const r = uncertaintyAltRange;
  [p.unc, -p.unc].forEach(v => {
    series.push({type: 'line', name: uncName, xAxisIndex: xi, yAxisIndex: yi,
      data: [[r[0], v], [r[1], v]], symbol: 'none', showSymbol: false,
      lineStyle: {color: p.light, width: 1, type: [10, 6]}, itemStyle: {color: p.light}, z: 3, silent: true});
    series.push({type: 'line', name: '_solid' + i, xAxisIndex: xi, yAxisIndex: yi,
      data: [[r[0], v], [uncertaintySolidEnd, v]], symbol: 'none', showSymbol: false,
      lineStyle: {color: p.light, width: 1, type: 'solid'}, z: 3, silent: true});
  });
  legend.push({show: true, orient: 'vertical', left: p.legend.left, top: p.legend.top,
    data: [{name: p.name, icon: 'circle'}, {name: uncName}],
    itemWidth: 34, itemHeight: 3, itemGap: 7, padding: [4, 4, 4, 3],
    borderColor: AXIS_COLOR, borderWidth: 1, backgroundColor: '#ffffff',
    selectedMode: false,
    formatter: n => n.indexOf('Sensor Uncertainty') === 0 ? 'Sensor Uncertainty' : n,
    textStyle: {fontSize: 16, lineHeight: 16, color: '#000', fontFamily: FONT}});
});

const chart = echarts.init(document.getElementById('c'), null, {renderer: 'canvas'});
chart.setOption({animation: false, backgroundColor: '#ffffff', grid, xAxis, yAxis, series, legend});
</script>
</body></html>
